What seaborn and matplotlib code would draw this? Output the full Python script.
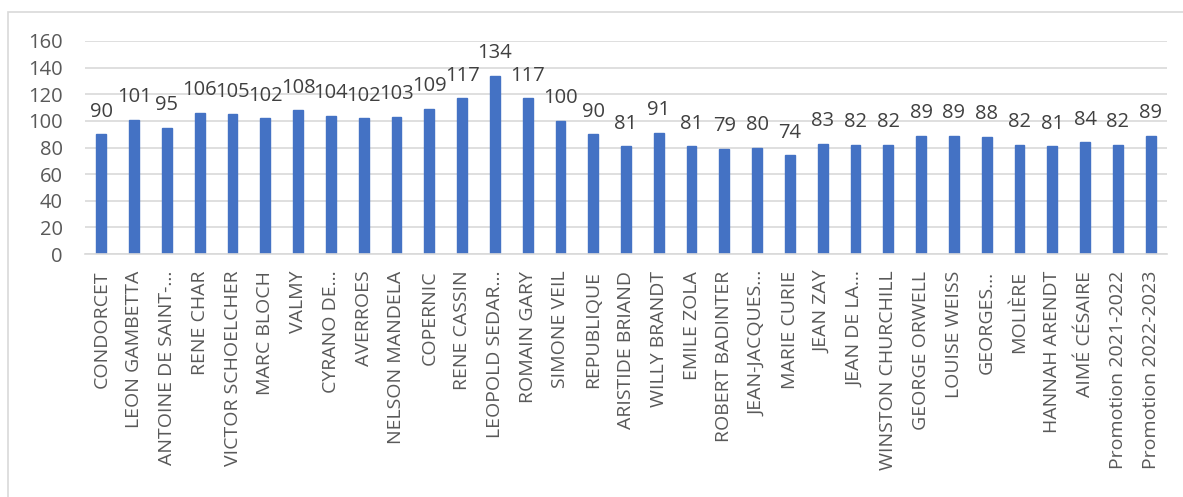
import matplotlib
matplotlib.use("Agg")
import matplotlib.pyplot as plt
import seaborn as sns
import pandas as pd
from matplotlib.patches import Rectangle

categories = ["CONDORCET", "LEON GAMBETTA", "ANTOINE DE SAINT-…", "RENE CHAR",
              "VICTOR SCHOELCHER", "MARC BLOCH", "VALMY", "CYRANO DE…", "AVERROES",
              "NELSON MANDELA", "COPERNIC", "RENE CASSIN", "LEOPOLD SEDAR…",
              "ROMAIN GARY", "SIMONE VEIL", "REPUBLIQUE", "ARISTIDE BRIAND",
              "WILLY BRANDT", "EMILE ZOLA", "ROBERT BADINTER", "JEAN-JACQUES…",
              "MARIE CURIE", "JEAN ZAY", "JEAN DE LA…", "WINSTON CHURCHILL",
              "GEORGE ORWELL", "LOUISE WEISS", "GEORGES…", "MOLIÈRE",
              "HANNAH ARENDT", "AIMÉ CÉSAIRE", "Promotion 2021-2022", "Promotion 2022-2023"]
values = [90, 101, 95, 106, 105, 102, 108, 104, 102, 103, 109, 117, 134, 117, 100,
          90, 81, 91, 81, 79, 80, 74, 83, 82, 82, 89, 89, 88, 82, 81, 84, 82, 89]
yticks = [0, 20, 40, 60, 80, 100, 120, 140, 160]

sns.set_theme(style="white")
plt.rcParams['font.family'] = ['Open Sans', 'DejaVu Sans']

df = pd.DataFrame({"cat": categories, "val": values})

fig = plt.figure(figsize=(11.83, 4.97), dpi=100)
ax = fig.add_axes([85/1183, 1-254/497, (1167-85)/1183, (254-41)/497])

sns.barplot(data=df, x="cat", y="val", color="#4472C4", width=0.3, ax=ax,
            saturation=1, edgecolor="#4472C4")

ax.set_ylim(0, 160)
ax.set_xlim(-0.5, len(categories) - 0.5)
ax.set_yticks(yticks)
ax.yaxis.grid(True, color="#d9d9d9", linewidth=1.2)
ax.set_axisbelow(True)
for s in ["top", "right", "left"]:
    ax.spines[s].set_visible(False)
ax.spines["bottom"].set_color("#d9d9d9")
ax.spines["bottom"].set_linewidth(1.2)
ax.set_xlabel("")
ax.set_ylabel("")
ax.tick_params(axis="y", labelsize=14.5, colors="#595959", length=0, pad=16)
ax.tick_params(axis="x", labelsize=14, colors="#595959", length=0, pad=12)
plt.setp(ax.get_xticklabels(), rotation=90, ha="center", va="top")

for c in ax.containers:
    ax.bar_label(c, labels=[str(v) for v in values], padding=9, fontsize=14.5, color="#404040")

fig.patches.append(Rectangle((8/1183, -0.1), 1.1, 1 - 12/497 + 0.1,
                             transform=fig.transFigure, fill=False,
                             edgecolor="#d9d9d9", linewidth=1.2))

fig.savefig("out.png", dpi=100)
